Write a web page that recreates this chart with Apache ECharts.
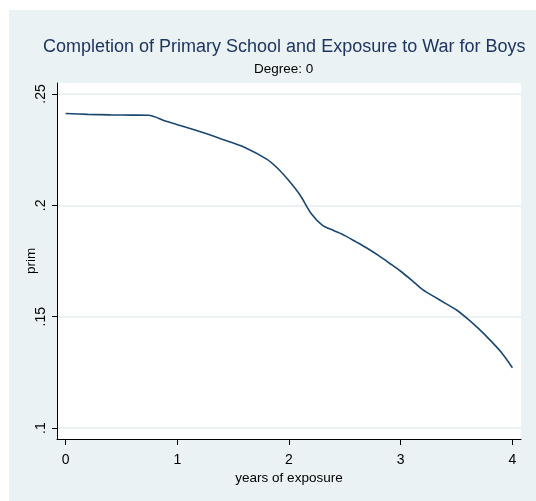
<!DOCTYPE html>
<html>
<head>
<meta charset="utf-8">
<script src="https://cdn.jsdelivr.net/npm/echarts@6/dist/echarts.min.js"></script>
<style>
html,body{margin:0;padding:0;background:#fff;width:536px;height:501px;overflow:hidden;}
#c{position:absolute;left:9px;top:10px;width:527px;height:491px;}
</style>
</head>
<body>
<div id="c"></div>
<script>
const titleText = 'Completion of Primary School and Exposure to War for Boys';
const subtitleText = 'Degree: 0';
const xName = 'years of exposure';
const yName = 'prim';
const xTicks = [0, 1, 2, 3, 4];
const yTicks = [0.1, 0.15, 0.2, 0.25];
const years = [0, 0.2, 0.4, 0.6, 0.74, 0.9, 1.0, 1.2, 1.4, 1.6, 1.8, 1.9, 2.0, 2.1, 2.2, 2.3, 2.4, 2.5, 2.6, 2.7, 2.8, 2.9, 3.0, 3.1, 3.2, 3.3, 3.4, 3.5, 3.6, 3.7, 3.8, 3.9, 4.0];
const prim = [0.2412, 0.2408, 0.2406, 0.2405, 0.2404, 0.2377, 0.2362, 0.2331, 0.2297, 0.2261, 0.2207, 0.2165, 0.2110, 0.2045, 0.1962, 0.1910, 0.1887, 0.1864, 0.1836, 0.1807, 0.1775, 0.1740, 0.1704, 0.1663, 0.1620, 0.1590, 0.1560, 0.1530, 0.1490, 0.1445, 0.1395, 0.1340, 0.1271];

const fmtY = v => {
  const s = (Math.round(v * 100) / 100).toString();
  return s.replace(/^0/, '');
};
const FONT = 'Liberation Sans, Arial, sans-serif';

const chart = echarts.init(document.getElementById('c'), null, {renderer: 'canvas'});
chart.setOption({
  backgroundColor: '#eaf2f3',
  animation: false,
  title: [
    {text: titleText, left: 29, top: 23, textStyle: {fontFamily: FONT, fontSize: 18, fontWeight: 'normal', color: '#1f3560'}},
    {text: subtitleText, left: 240, top: 47, textStyle: {fontFamily: FONT, fontSize: 13.5, fontWeight: 'normal', color: '#000'}}
  ],
  grid: {left: 48, top: 73, right: 15, bottom: 62, show: true, backgroundColor: '#ffffff', borderWidth: 0, containLabel: false, outerBoundsMode: 'none'},
  xAxis: {
    type: 'value', min: -0.077, max: 4.077,
    name: xName, nameLocation: 'middle', nameGap: 32, nameMoveOverlap: false,
    nameTextStyle: {fontFamily: FONT, fontSize: 13.5, color: '#000'},
    axisLine: {show: true, onZero: false, lineStyle: {color: '#000', width: 1}},
    axisTick: {show: true, customValues: xTicks, length: 6, lineStyle: {color: '#000'}},
    axisLabel: {customValues: xTicks, fontFamily: FONT, fontSize: 14, color: '#000', margin: 14},
    splitLine: {show: false}
  },
  yAxis: {
    type: 'value', min: 0.0951, max: 0.2549,
    name: yName, nameLocation: 'middle', nameGap: 19, nameRotate: 90, nameMoveOverlap: false,
    nameTextStyle: {fontFamily: FONT, fontSize: 13.5, color: '#000'},
    axisLine: {show: true, onZero: false, lineStyle: {color: '#000', width: 1}},
    axisTick: {show: true, customValues: yTicks, length: 5, lineStyle: {color: '#000'}},
    axisLabel: {customValues: yTicks, rotate: 90, formatter: fmtY, fontFamily: FONT, fontSize: 14, color: '#000', margin: 9},
    splitLine: {show: true, lineStyle: {color: '#eaf2f3', width: 2}}
  },
  series: [{
    type: 'line',
    data: years.map((x, i) => [x, prim[i]]),
    smooth: 0.3,
    showSymbol: false,
    lineStyle: {color: '#1a476f', width: 1.6},
    z: 3
  }]
});
</script>
</body>
</html>
